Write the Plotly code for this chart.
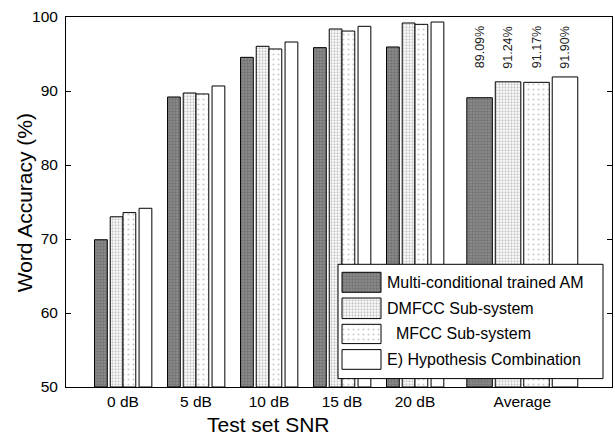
import plotly.graph_objects as go

# ---------------- data ----------------
categories = ["0 dB", "5 dB", "10 dB", "15 dB", "20 dB", "Average"]
series_names = ["Multi-conditional trained AM", "DMFCC Sub-system",
                "  MFCC Sub-system", "E) Hypothesis Combination"]
multi_cond = [69.9, 89.19, 94.55, 95.86, 95.95, 89.09]
dmfcc = [73.0, 89.73, 96.04, 98.38, 99.19, 91.24]
mfcc = [73.57, 89.6, 95.68, 98.1, 99.01, 91.17]
hypo_comb = [74.15, 90.68, 96.62, 98.74, 99.32, 91.90]
series_values = [multi_cond, dmfcc, mfcc, hypo_comb]

# ---------------- layout / style ----------------
W, H = 615, 438
L, R, T, B = 66, 3, 16.7, 51.3
PW, PH = W - L - R, H - T - B
x_pos = [0, 1, 2, 3, 4, 5.47]
x_range = [-0.781, 6.699]
norm_w = 0.175
norm_off = [-0.39, -0.175, 0.0, 0.22]
avg_w = 0.35
avg_off = [-0.76, -0.37, 0.02, 0.41]

patterns = [
    dict(color="#7d7d7d", pattern=dict(shape=".", fgcolor="#555555", bgcolor="#8e8e8e", size=3, solidity=0.5)),
    dict(color="#d0d0d0", pattern=dict(shape=".", fgcolor="#8f8f8f", bgcolor="#ffffff", size=3, solidity=0.45)),
    dict(color="#eeeeee", pattern=dict(shape=".", fgcolor="#9a9a9a", bgcolor="#ffffff", size=5, solidity=0.15)),
    dict(color="#ffffff", pattern=dict(shape="")),
]

FONT = "Liberation Sans, Arial, Helvetica, sans-serif"

fig = go.Figure()
n = len(categories)
for i, (name, vals) in enumerate(zip(series_names, series_values)):
    widths = [norm_w] * (n - 1) + [avg_w]
    offs = [norm_off[i]] * (n - 1) + [avg_off[i]]
    p = patterns[i]
    fig.add_trace(go.Bar(
        x=x_pos, y=[v - 50 for v in vals], base=50, width=widths, offset=offs,
        name=name, showlegend=False,
        marker=dict(color=p["color"], pattern=p["pattern"],
                    line=dict(color="black", width=1)),
        hoverinfo="skip",
    ))

# percentage labels above the Average group
annotations = []
for i, vals in enumerate(series_values):
    annotations.append(dict(
        x=x_pos[-1] + avg_off[i] + avg_w / 2, y=92.75, xref="x", yref="y",
        text=f"{vals[-1]:.2f}%", textangle=-90, showarrow=False,
        xanchor="center", yanchor="bottom",
        font=dict(family=FONT, size=12.5, color="#222222"),
    ))

# helpers: pixel -> plot-area fraction
def fx(px):
    return (px - L) / PW

def fy(py):
    return (H - B - py) / PH

# custom legend drawn on an overlay axis
bx0, bx1, by0, by1 = 338, 603, 264, 378.3
fig.add_trace(go.Scatter(
    x=[fx(bx0), fx(bx1), fx(bx1), fx(bx0), fx(bx0)],
    y=[fy(by0), fy(by0), fy(by1), fy(by1), fy(by0)],
    xaxis="x2", yaxis="y2", mode="lines", fill="toself", fillcolor="white",
    line=dict(color="black", width=1), showlegend=False, hoverinfo="skip"))
sw_x0, sw_x1 = 342, 381
sw_y = [(272, 292), (297.7, 318.3), (324, 343.3), (349.3, 369)]
for i, (ya, yb) in enumerate(sw_y):
    p = patterns[i]
    fp = dict(p["pattern"])
    if fp.get("shape"):
        fill_pat = dict(shape=fp["shape"], fgcolor=fp["fgcolor"], bgcolor=fp["bgcolor"],
                        size=fp["size"], solidity=fp["solidity"])
    else:
        fill_pat = None
    tr = dict(
        x=[fx(sw_x0), fx(sw_x1), fx(sw_x1), fx(sw_x0), fx(sw_x0)],
        y=[fy(ya), fy(ya), fy(yb), fy(yb), fy(ya)],
        xaxis="x2", yaxis="y2", mode="lines", fill="toself", fillcolor=p["color"],
        line=dict(color="black", width=1), showlegend=False, hoverinfo="skip")
    if fill_pat:
        tr["fillpattern"] = fill_pat
    fig.add_trace(go.Scatter(**tr))
    annotations.append(dict(
        x=fx(384.5), y=fy((ya + yb) / 2), xref="paper", yref="paper",
        text=series_names[i].replace(" ", "&nbsp;", 2) if series_names[i].startswith(" ") else series_names[i],
        showarrow=False, xanchor="left", yanchor="middle",
        font=dict(family=FONT, size=16, color="black"),
    ))

# axis titles
annotations.append(dict(
    x=fx(268), y=fy(424), xref="paper", yref="paper", text="Test set SNR",
    showarrow=False, xanchor="center", yanchor="middle",
    font=dict(family=FONT, size=21, color="black")))
annotations.append(dict(
    x=fx(24), y=fy(203), xref="paper", yref="paper", text="Word Accuracy (%)",
    showarrow=False, xanchor="center", yanchor="middle", textangle=-90,
    font=dict(family=FONT, size=21, color="black")))

fig.update_layout(
    width=W, height=H,
    margin=dict(l=L, r=R, t=T, b=B, pad=0),
    paper_bgcolor="white", plot_bgcolor="white",
    barmode="overlay",
    font=dict(family=FONT, size=15.5, color="black"),
    xaxis=dict(range=x_range, tickvals=x_pos, ticktext=categories,
               showline=True, linecolor="black", linewidth=1, mirror=True,
               ticks="", showgrid=False, zeroline=False, ticklabelstandoff=0,
               tickfont=dict(family=FONT, size=15.5, color="black")),
    yaxis=dict(range=[50, 100], dtick=10, showline=True, linecolor="black",
               linewidth=1, mirror="ticks", ticks="inside", ticklen=5,
               tickcolor="black", showgrid=False, zeroline=False,
               ticklabelstandoff=4,
               tickfont=dict(family=FONT, size=15.5, color="black")),
    xaxis2=dict(overlaying="x", range=[0, 1], visible=False, fixedrange=True),
    yaxis2=dict(overlaying="y", range=[0, 1], visible=False, fixedrange=True),
    annotations=annotations,
    showlegend=False,
)

fig.write_html("out.html")
